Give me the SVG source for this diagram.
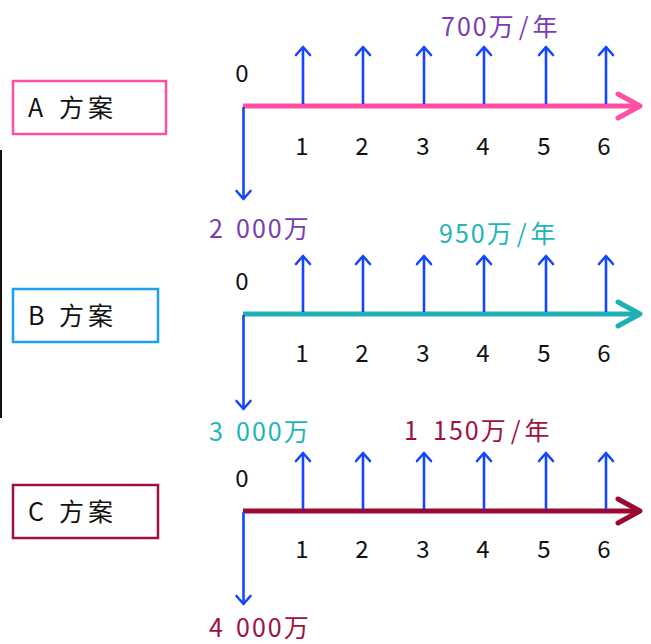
<svg xmlns="http://www.w3.org/2000/svg" width="651" height="644" viewBox="0 0 651 644">
<style>
text{font-family:"Noto Sans CJK SC","Noto Sans",sans-serif;}
.lbl{font-size:25px;fill:#111;}
.num{font-size:24px;fill:#111;text-anchor:middle;}
.cf{stroke:#1446ff;stroke-width:2.6;fill:none;marker-end:url(#hb);}
.box{fill:#fff;stroke-width:2.5;}
.ax{stroke-width:5;fill:none;}
.amt{font-size:25px;}
.cj{letter-spacing:4px;}
.dg{letter-spacing:2px;}
</style>
<defs>
<marker id="hb" markerUnits="userSpaceOnUse" viewBox="-10 -10 20 20" markerWidth="20" markerHeight="20" refX="0" refY="0" orient="auto">
<path d="M-8,-7 L0,0 L-8,7" fill="none" stroke="#1446ff" stroke-width="2.6" stroke-linecap="round" stroke-linejoin="round"/>
</marker>
</defs>
<line x1="1" y1="150" x2="1" y2="418" stroke="#111" stroke-width="2"/>

<g id="A">
<rect class="box" x="13" y="81" width="153" height="53" stroke="#ff4fa3"/>
<text class="lbl" y="117"><tspan x="28">A</tspan><tspan x="59" class="cj">方案</tspan></text>
<text class="num" x="242" y="82">0</text>
<text class="num" x="302" y="155">1</text><text class="num" x="362" y="155">2</text><text class="num" x="423" y="155">3</text><text class="num" x="483" y="155">4</text><text class="num" x="544" y="155">5</text><text class="num" x="604" y="155">6</text>
<text class="amt" y="36" fill="#7a3cb4"><tspan x="441" class="dg">700万</tspan><tspan dx="3">/</tspan><tspan dx="4">年</tspan></text>
<text class="amt" y="238" fill="#7a3cb4"><tspan x="209">2</tspan><tspan x="236" class="dg">000万</tspan></text>
</g>
<g id="B">
<rect class="box" x="13" y="289" width="145" height="53" stroke="#1aa0ee"/>
<text class="lbl" y="325"><tspan x="28">B</tspan><tspan x="59" class="cj">方案</tspan></text>
<text class="num" x="242" y="290">0</text>
<text class="num" x="302" y="362">1</text><text class="num" x="362" y="362">2</text><text class="num" x="423" y="362">3</text><text class="num" x="483" y="362">4</text><text class="num" x="544" y="362">5</text><text class="num" x="604" y="362">6</text>
<text class="amt" y="243" fill="#22b5b5"><tspan x="439" class="dg">950万</tspan><tspan dx="3">/</tspan><tspan dx="4">年</tspan></text>
<text class="amt" y="441" fill="#22b5b5"><tspan x="209">3</tspan><tspan x="236" class="dg">000万</tspan></text>
</g>
<g id="C">
<rect class="box" x="13" y="485" width="145" height="53" stroke="#9e1038"/>
<text class="lbl" y="521"><tspan x="28">C</tspan><tspan x="59" class="cj">方案</tspan></text>
<text class="num" x="242" y="487">0</text>
<text class="num" x="302" y="558">1</text><text class="num" x="362" y="558">2</text><text class="num" x="423" y="558">3</text><text class="num" x="483" y="558">4</text><text class="num" x="544" y="558">5</text><text class="num" x="604" y="558">6</text>
<text class="amt" y="440" fill="#a0123c"><tspan x="404">1</tspan><tspan x="433" class="dg">150万</tspan><tspan dx="3">/</tspan><tspan dx="4">年</tspan></text>
<text class="amt" y="637" fill="#a0123c"><tspan x="209">4</tspan><tspan x="236" class="dg">000万</tspan></text>
</g>

<g id="connectors">
<g stroke="#ff4fa3">
<path class="ax" d="M243,106 H638"/>
<path class="ax" d="M618,94 L640,106 L618,118" stroke-linecap="round" stroke-linejoin="round"/>
</g>
<path class="cf" d="M243.5,107 V199"/>
<path class="cf" d="M303,104 V47"/><path class="cf" d="M363,104 V47"/><path class="cf" d="M424,104 V47"/><path class="cf" d="M484,104 V47"/><path class="cf" d="M546,104 V47"/><path class="cf" d="M606,104 V47"/>

<g stroke="#1fb0b5">
<path class="ax" d="M243,314 H638"/>
<path class="ax" d="M618,302 L640,314 L618,326" stroke-linecap="round" stroke-linejoin="round"/>
</g>
<path class="cf" d="M243.5,315 V409"/>
<path class="cf" d="M303,312 V256"/><path class="cf" d="M363,312 V256"/><path class="cf" d="M424,312 V256"/><path class="cf" d="M484,312 V256"/><path class="cf" d="M546,312 V256"/><path class="cf" d="M606,312 V256"/>

<g stroke="#9b0a30">
<path class="ax" d="M243,511 H638"/>
<path class="ax" d="M618,499 L640,511 L618,523" stroke-linecap="round" stroke-linejoin="round"/>
</g>
<path class="cf" d="M243.5,512 V604"/>
<path class="cf" d="M303,509 V453"/><path class="cf" d="M363,509 V453"/><path class="cf" d="M424,509 V453"/><path class="cf" d="M484,509 V453"/><path class="cf" d="M546,509 V453"/><path class="cf" d="M606,509 V453"/>
</g>
</svg>
